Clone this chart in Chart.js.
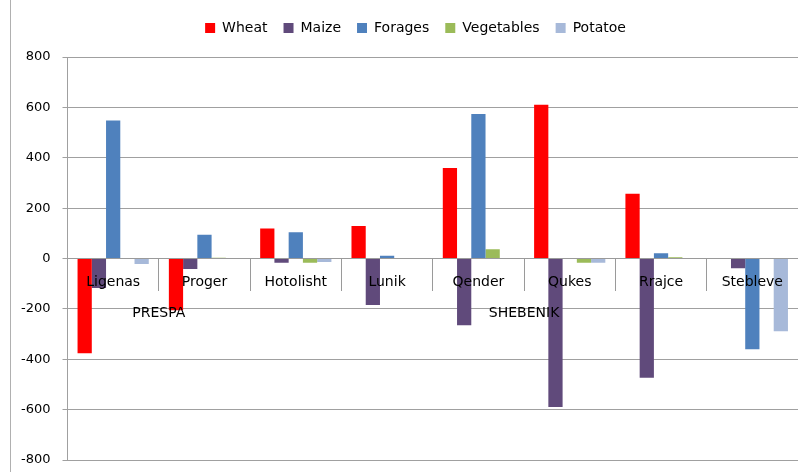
<!DOCTYPE html>
<html>
<head>
<meta charset="utf-8">
<script src="https://cdn.jsdelivr.net/npm/chart.js@4/dist/chart.umd.min.js"></script>
<style>
html,body{margin:0;padding:0;background:#fff;}
#wrap{position:relative;width:798px;height:472px;}
#wrap:before{content:"";position:absolute;left:10px;top:0;width:1px;height:472px;background:#b0b0b0;}
canvas{display:block;}
</style>
</head>
<body>
<div id="wrap"><canvas id="c" width="798" height="472"></canvas></div>
<script>
const categories = ["Ligenas","Proger","Hotolisht","Lunik","Qender","Qukes","Rrajce","Stebleve"];
const wheat      = [-376, -205, 119, 129, 359, 610, 257, 0];
const maize      = [-117, -42, -17, -185, -265, -590, -473, -39];
const forages    = [548, 94, 104, 11, 574, 0, 21, -360];
const vegetables = [0, 3, -17, 0, 37, -17, 5, 0];
const potatoe    = [-22, 0, -14, 0, 0, -17, 0, -289];
const seriesNames = ["Wheat","Maize","Forages","Vegetables","Potatoe"];
const yTicks = [-800,-600,-400,-200,0,200,400,600,800];
const groups = [{name:"PRESPA", between:[0,1]}, {name:"SHEBENIK", between:[4,5]}];

const colors = ["#FF0000","#604A7B","#4F81BD","#9BBB59","#A7B9D9"];
const seriesData = [wheat, maize, forages, vegetables, potatoe];
const FONT = "'DejaVu Sans', sans-serif";

const groupLabels = {
  id:'groupLabels',
  beforeInit(chart){
    const l = chart.legend;
    if (l) {
      const f = l.fit;
      l.fit = function(){ f.call(this); this.height = 52; };
    }
  },
  afterLayout(chart){
    const l = chart.legend;
    if (l) { l.left += 12; l.right += 12; }
  },
  afterDraw(chart){
    const x = chart.scales.x, y = chart.scales.y, ctx = chart.ctx;
    ctx.save();
    ctx.font = "14px " + FONT;
    ctx.fillStyle = "#000";
    ctx.textAlign = "center";
    ctx.textBaseline = "middle";
    const yPos = y.getPixelForValue(0) + 55;
    groups.forEach(g=>{
      const xp = (x.getPixelForValue(g.between[0]) + x.getPixelForValue(g.between[1]))/2;
      ctx.fillText(g.name, xp, yPos);
    });
    ctx.restore();
  }
};

new Chart(document.getElementById('c'), {
  type:'bar',
  data:{
    labels: categories,
    datasets: seriesNames.map((n,i)=>({
      label:n, data:seriesData[i], backgroundColor:colors[i], borderWidth:0,
      categoryPercentage:0.78, barPercentage:1.0
    }))
  },
  plugins:[groupLabels],
  options:{
    responsive:false,
    animation:false,
    devicePixelRatio:1,
    layout:{padding:{left:9,right:0,top:5,bottom:12}},
    plugins:{
      legend:{
        position:'top',
        labels:{boxWidth:10,boxHeight:10,padding:16,color:"#000",font:{family:FONT,size:14}}
      },
      tooltip:{enabled:false}
    },
    scales:{
      x:{
        position:{y:0},
        afterFit(s){ s.height = 0; s.paddingTop = 0; s.paddingBottom = 0; },
        grid:{drawOnChartArea:false, drawTicks:true, tickLength:32, offset:true, color:"#9a9a9a"},
        border:{display:true, color:"#9a9a9a"},
        ticks:{z:1, padding:-17, color:"#000", font:{family:FONT,size:14}, maxRotation:0, autoSkip:false}
      },
      y:{
        min:-800, max:800,
        afterBuildTicks(s){ s.ticks = yTicks.map(v=>({value:v})); },
        afterFit(s){ s.paddingBottom = 0; s.paddingTop = 0; },
        grid:{color:"#a0a0a0", tickLength:5},
        border:{display:true,color:"#a0a0a0"},
        ticks:{color:"#000", padding:12, font:{family:FONT,size:13}}
      }
    }
  }
});
</script>
</body>
</html>
